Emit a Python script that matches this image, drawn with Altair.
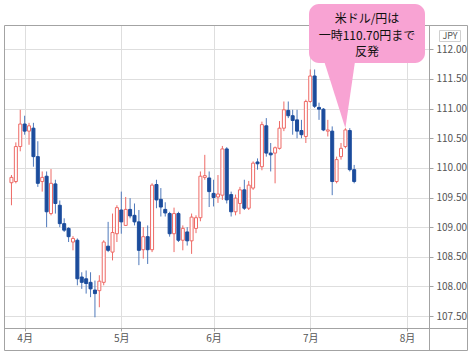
import altair as alt
import pandas as pd

# ---- data (trading-day index: 0 = first trading day of April) ----
day_idx = list(range(-3, 76))
opens = [109.75, 109.77, 110.36, 110.74, 110.62, 110.67, 110.19, 109.77, 109.86, 109.23,
         109.73, 109.37, 109.06, 108.98, 108.75, 108.78, 108.16, 108.13, 108.07, 107.94,
         107.93, 108.07, 108.68, 108.58, 108.89, 109.29, 109.03, 109.30, 109.20, 109.09,
         108.62, 108.84, 108.62, 109.72, 109.47, 109.30, 109.23, 108.89, 109.23, 108.78,
         108.92, 108.77, 108.98, 109.16, 109.84, 109.83, 109.57, 109.51, 109.54, 110.32,
         109.55, 109.26, 109.40, 109.63, 109.32, 109.66, 110.10, 110.02, 110.71, 110.25,
         110.25, 110.33, 110.67, 110.97, 110.88, 110.81, 110.63, 110.53, 111.12, 111.55,
         111.02, 110.99, 110.62, 110.62, 109.77, 110.19, 110.36, 110.63, 109.97]
highs = [109.88, 110.43, 110.98, 110.88, 110.76, 110.76, 110.45, 109.94, 109.94, 109.98,
         109.80, 109.45, 109.15, 109.00, 108.85, 108.81, 108.24, 108.27, 108.24, 108.10,
         108.19, 108.78, 109.09, 109.23, 109.37, 109.60, 109.51, 109.49, 109.40, 109.29,
         109.00, 109.03, 109.74, 109.80, 109.66, 109.42, 109.26, 109.33, 109.26, 109.03,
         109.00, 109.23, 109.20, 109.94, 110.22, 109.94, 109.80, 109.88, 110.37, 110.35,
         109.60, 109.55, 109.68, 109.80, 109.78, 110.11, 110.16, 110.78, 110.84, 110.42,
         110.36, 110.79, 111.12, 111.12, 110.98, 110.98, 110.81, 111.15, 111.66, 111.66,
         111.10, 111.01, 110.81, 110.70, 110.19, 110.42, 110.67, 110.67, 110.05]
lows = [109.37, 109.74, 110.28, 110.56, 110.39, 110.02, 109.68, 109.60, 109.00, 109.20,
        109.23, 109.00, 108.92, 108.75, 108.61, 108.02, 107.96, 107.88, 107.82, 107.48,
        107.65, 108.02, 108.58, 108.44, 108.75, 108.89, 109.02, 109.15, 109.03, 108.36,
        108.47, 108.38, 108.58, 109.32, 109.18, 109.18, 108.84, 108.58, 108.75, 108.61,
        108.69, 108.55, 108.90, 109.10, 109.80, 109.34, 109.35, 109.41, 109.46, 109.40,
        109.18, 109.20, 109.22, 109.29, 109.29, 109.63, 109.97, 109.96, 110.19, 109.94,
        109.74, 110.31, 110.62, 110.84, 110.56, 110.50, 110.50, 110.42, 111.10, 111.01,
        110.81, 110.62, 110.53, 109.54, 109.74, 110.14, 110.33, 109.94, 109.74]
closes = [109.84, 110.36, 110.74, 110.62, 110.71, 110.19, 109.74, 109.84, 109.26, 109.74,
          109.40, 109.06, 108.95, 108.84, 108.81, 108.13, 108.07, 108.05, 107.96, 107.88,
          108.09, 108.75, 108.61, 108.91, 109.33, 109.09, 109.30, 109.19, 109.09, 108.61,
          108.84, 108.62, 109.71, 109.46, 109.34, 109.24, 108.89, 109.23, 108.78, 108.98,
          108.77, 109.17, 109.16, 109.86, 109.87, 109.60, 109.50, 109.56, 110.32, 109.46,
          109.26, 109.49, 109.63, 109.32, 109.71, 110.08, 110.07, 110.73, 110.25, 110.22,
          110.34, 110.67, 110.98, 110.88, 110.80, 110.62, 110.56, 111.12, 111.55, 111.04,
          110.99, 110.64, 110.64, 109.77, 110.14, 110.33, 110.64, 109.97, 109.77]

month_idx = [0, 22, 43, 65, 87]
month_labels = ["4月", "5月", "6月", "7月", "8月"]
y_ticks = [107.5, 108.0, 108.5, 109.0, 109.5, 110.0, 110.5, 111.0, 111.5, 112.0]
callout_lines = ["米ドル/円は", "一時110.70円まで", "反発"]
callout_day = 73
unit_label = "JPY"

# ---- styles ----
RED = "#ee6a66"
BLUE = "#1b4c9c"
BLUE_WICK = "#4f79bb"
GRID = "#dedede"
FRAME = "#a3a3a3"
LAB = "#555555"
PINK = "#f8a3d3"
FONT = "Noto Sans CJK JP"

df = pd.DataFrame({"i": day_idx, "open": opens, "high": highs, "low": lows, "close": closes})
df["dir"] = ["up" if c >= o else "down" for o, c in zip(df["open"], df["close"])]

label_expr = " : ".join(f"datum.value == {v} ? '{l}'" for v, l in zip(month_idx, month_labels)) + " : ''"

xscale = alt.Scale(domain=[-3.56, 90.89], nice=False, zero=False)
yscale = alt.Scale(domain=[107.30, 112.41], nice=False, zero=False)
xaxis = alt.Axis(values=month_idx, labelExpr=label_expr, title=None, grid=True, gridColor=GRID,
                 domain=False, tickSize=3, tickColor=FRAME, labelFont=FONT, labelFontSize=10,
                 labelColor=LAB, labelPadding=2, labelFlush=False)
yaxis = alt.Axis(orient="right", values=y_ticks, format=".2f", title=None, grid=True, gridColor=GRID,
                 domain=False, tickSize=4, tickColor=FRAME, labelFont=FONT, labelFontSize=10,
                 labelColor=LAB, labelPadding=3)

base = alt.Chart(df)
wicks = base.mark_rule(strokeWidth=1).encode(
    x=alt.X("i:Q", scale=xscale, axis=xaxis),
    y=alt.Y("low:Q", scale=yscale, axis=yaxis),
    y2="high:Q",
    color=alt.Color("dir:N", scale=alt.Scale(domain=["up", "down"], range=[RED, BLUE_WICK]), legend=None),
)
bodies = base.mark_bar(size=3, strokeWidth=1).encode(
    x=alt.X("i:Q", scale=xscale, axis=xaxis),
    y=alt.Y("open:Q", scale=yscale, axis=yaxis),
    y2="close:Q",
    fill=alt.Fill("dir:N", scale=alt.Scale(domain=["up", "down"], range=["#ffffff", BLUE]), legend=None),
    stroke=alt.Stroke("dir:N", scale=alt.Scale(domain=["up", "down"], range=[RED, BLUE]), legend=None),
)

one = pd.DataFrame({"k": [0]})
frame_rect = alt.Chart(one).mark_rect(fill="transparent", stroke=FRAME, strokeWidth=1).encode(
    x=alt.value(0.5), x2=alt.value(463.5), y=alt.value(0.5), y2=alt.value(325.5))
vline = alt.Chart(one).mark_rule(color=FRAME, strokeWidth=1).encode(
    x=alt.value(425.5), y=alt.value(0), y2=alt.value(325))
hline = alt.Chart(one).mark_rule(color=FRAME, strokeWidth=1).encode(
    x=alt.value(0), x2=alt.value(463), y=alt.value(303.5))

jpy_box = alt.Chart(one).mark_rect(fill="#ffffff", stroke="#cfcfcf", strokeWidth=1).encode(
    x=alt.value(435.5), x2=alt.value(456.5), y=alt.value(5.5), y2=alt.value(16.5))
jpy_text = alt.Chart(one).mark_text(font=FONT, fontSize=9, color=LAB, align="center", baseline="middle").encode(
    x=alt.value(446), y=alt.value(11), text=alt.value(unit_label))

tip_df = pd.DataFrame({"i": [callout_day], "p": [highs[day_idx.index(callout_day)]]})
pointer = alt.Chart(tip_df).mark_point(
    shape="M -0.317 -1 L 0.144 -1 L 0 0 Z", size=20736, filled=True, fill=PINK, opacity=1, strokeWidth=0
).encode(x=alt.X("i:Q", scale=xscale, axis=xaxis), y=alt.Y("p:Q", scale=yscale, axis=yaxis))
bubble = alt.Chart(one).mark_rect(fill=PINK, cornerRadius=10).encode(
    x=alt.value(305), x2=alt.value(421), y=alt.value(-21), y2=alt.value(38))
texts = [
    alt.Chart(one).mark_text(font=FONT, fontSize=12, color="#111111", align="center", baseline="middle").encode(
        x=alt.value(363), y=alt.value(-6 + 16.5 * k), text=alt.value(line))
    for k, line in enumerate(callout_lines)
]

chart = alt.layer(wicks, bodies, frame_rect, vline, hline, jpy_box, jpy_text, pointer, bubble, *texts).properties(
    width=425, height=303,
    autosize=alt.AutoSizeParams(type="none"),
    padding={"left": 4, "top": 25, "right": 43, "bottom": 26},
).configure_view(strokeWidth=0)

chart.save("out.html", embed_options={"renderer": "svg", "actions": False})
